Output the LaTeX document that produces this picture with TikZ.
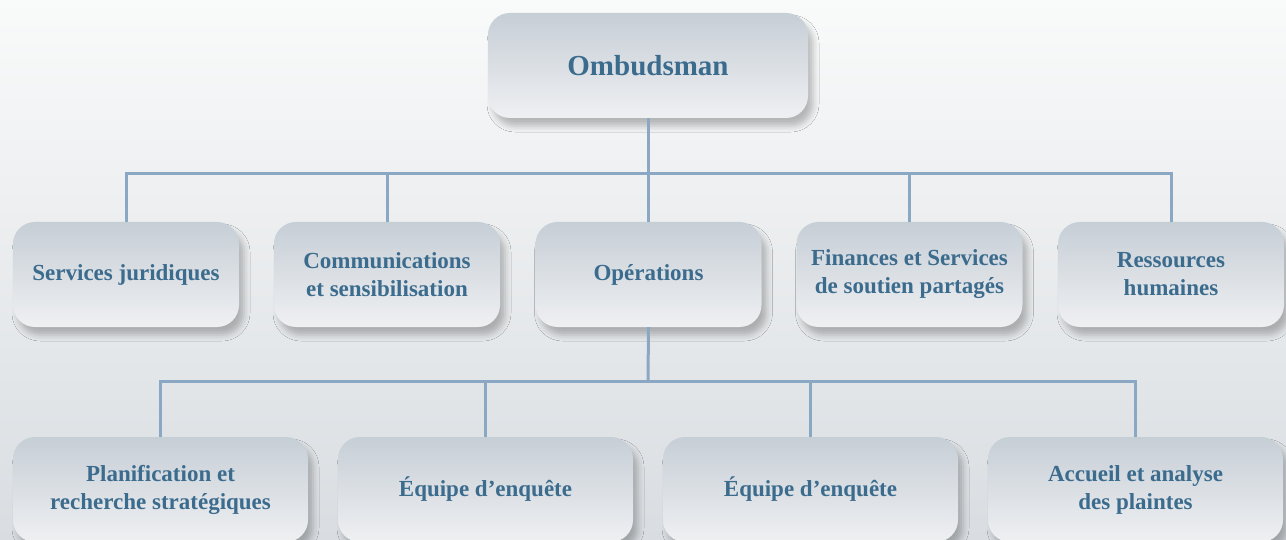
\documentclass[tikz,border=0pt]{standalone}
\usepackage{fontspec}
\setmainfont{Liberation Serif}
\usetikzlibrary{shadows.blur}
\definecolor{txtblue}{HTML}{3B6B8D}
\definecolor{linkblue}{HTML}{8AA8C3}
\definecolor{boxtop}{HTML}{C6CED6}
\definecolor{boxbot}{HTML}{EFF0F2}
\definecolor{bgtop}{HTML}{F9FAFA}
\definecolor{bgbot}{HTML}{D9DDE1}
\begin{document}
\begin{tikzpicture}[x=1pt,y=-1pt,
    box/.style={rounded corners=22pt,top color=boxtop,bottom color=boxbot,
      text=txtblue,align=center,inner sep=0pt,minimum height=105pt,
      font=\bfseries\fontsize{23}{28}\selectfont,
      blur shadow={shadow xshift=5pt,shadow yshift=-8pt,shadow opacity=25,shadow blur radius=6pt}},
    unit/.style={box,minimum width=226pt},
    team/.style={box,minimum width=295pt},
    link/.style={linkblue,line width=3pt}]
  \useasboundingbox (0,0) rectangle (1286,540);
  \shade[top color=bgtop,bottom color=bgbot] (0,0) rectangle (1286,540);

  \node[box,minimum width=320pt,font=\bfseries\fontsize{29}{34}\selectfont] (omb) at (648,65.5) {Ombudsman};

  \node[unit] (jur) at (126,274.5) {Services juridiques};
  \node[unit] (com) at (387,274.5) {Communications\\et sensibilisation};
  \node[unit] (ops) at (648.5,274.5) {Opérations};
  \node[unit] (fin) at (909.5,274.5) {Finances et Services\\de soutien partagés};
  \node[unit] (rh) at (1171,274.5) {Ressources\\humaines};

  \node[team] (plan) at (160.5,489.5) {Planification et\\recherche stratégiques};
  \node[team] (enq1) at (485.5,489.5) {Équipe d’enquête};
  \node[team] (enq2) at (810.5,489.5) {Équipe d’enquête};
  \node[team] (acc) at (1135.5,489.5) {Accueil et analyse\\des plaintes};

  \coordinate (bus1) at (648,174);
  \coordinate (bus2) at (648,381);
  \draw[link] (omb.south) -- (bus1);
  \foreach \n in {jur,com,ops,fin,rh}
    \draw[link] (bus1) -| (\n.north);
  \draw[link] (ops.south) -- (bus2);
  \foreach \n in {plan,enq1,enq2,acc}
    \draw[link] (bus2) -| (\n.north);
\end{tikzpicture}
\end{document}
